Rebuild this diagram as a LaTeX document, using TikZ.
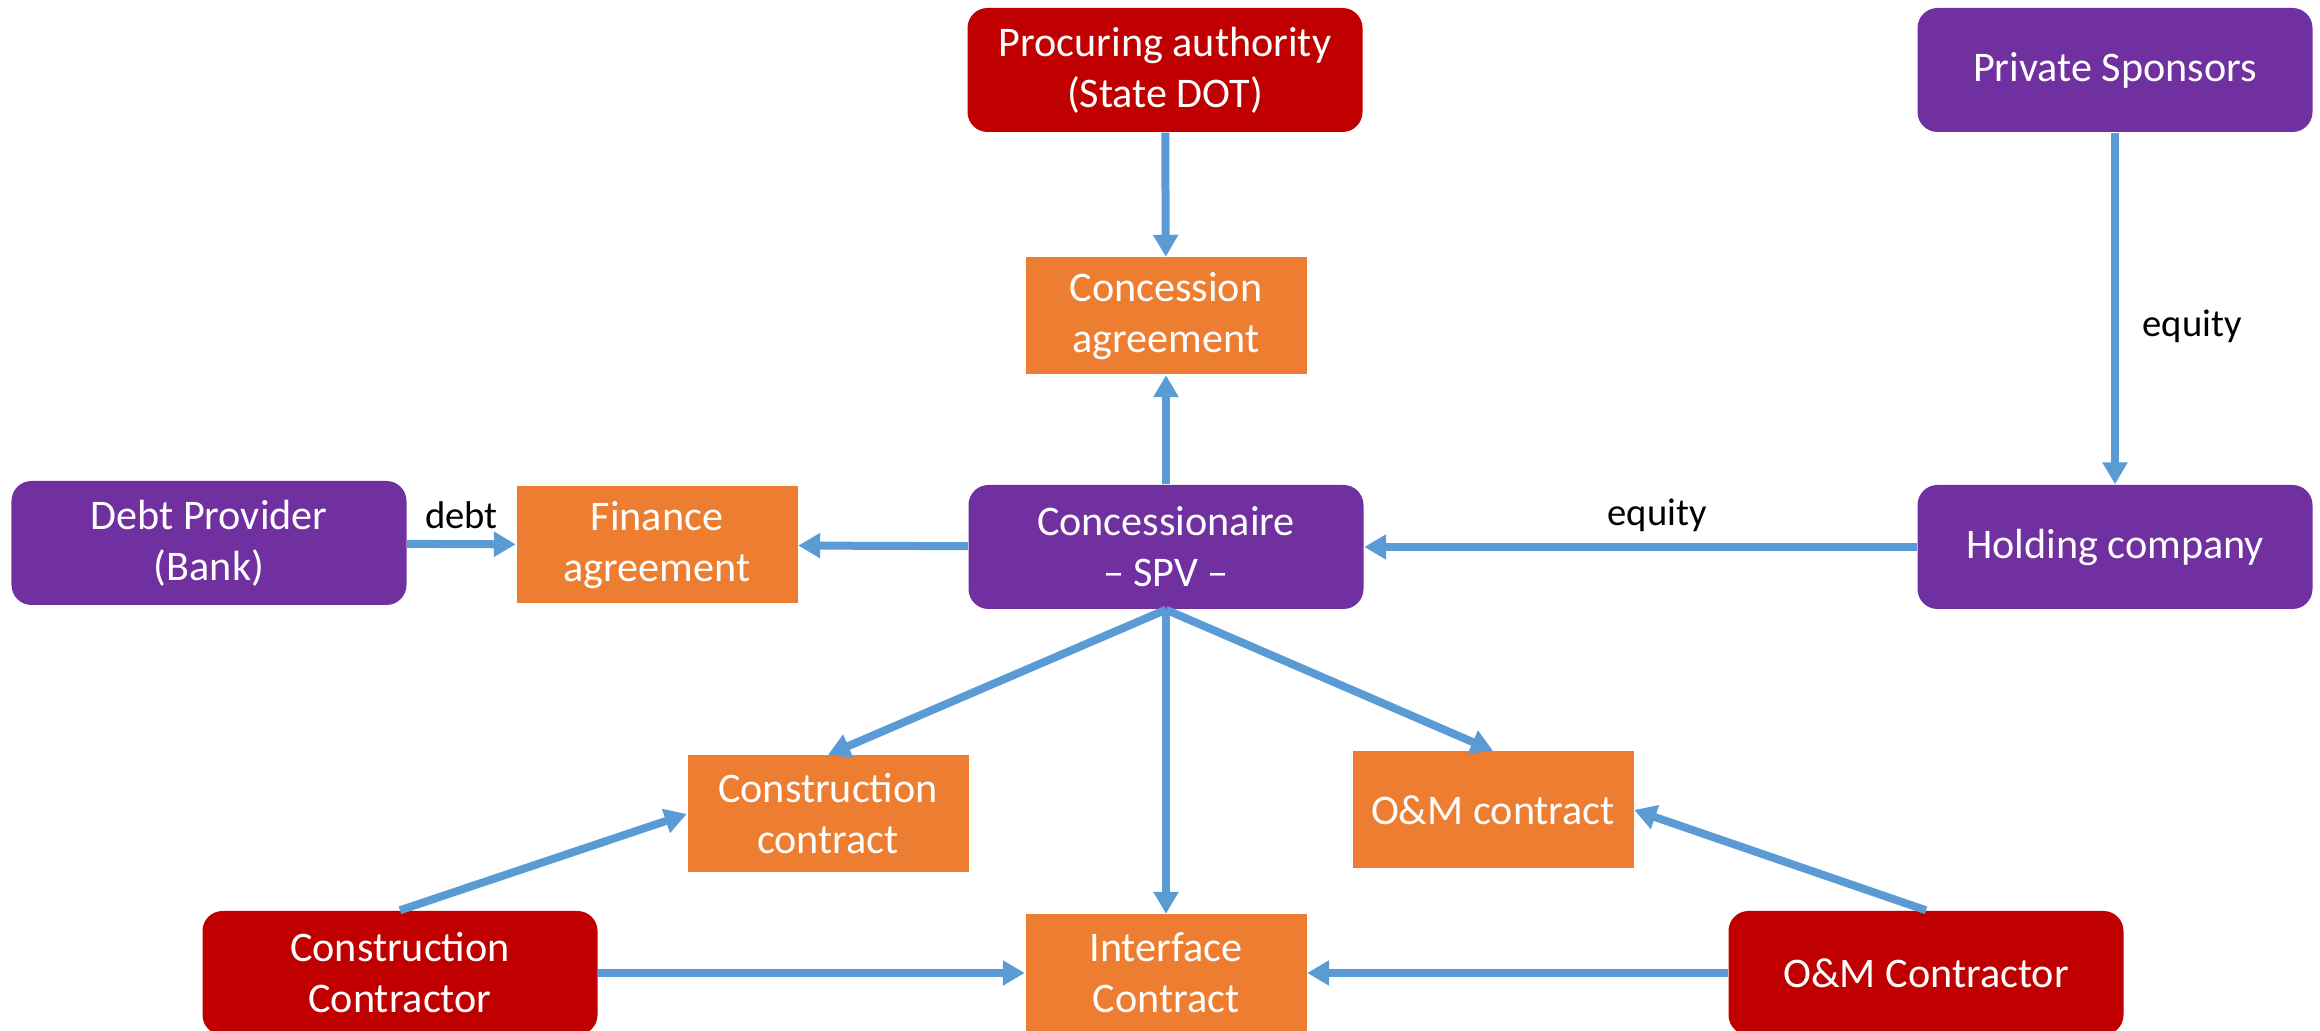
\documentclass[tikz,border=0pt]{standalone}
\usepackage{fontspec}
\setmainfont{Carlito}
\usetikzlibrary{arrows.meta}
\definecolor{ppred}{HTML}{C00000}
\definecolor{pppurple}{HTML}{7030A0}
\definecolor{pporange}{HTML}{ED7D31}
\definecolor{ppblue}{HTML}{5B9BD5}

\begin{document}
\begin{tikzpicture}[
    party/.style={rounded corners=0.2cm, minimum width=3.95cm,
        minimum height=1.24cm, text=white, align=center,
        font=\fontsize{12}{14.5}\selectfont},
    agreement/.style={fill=pporange, minimum width=2.81cm,
        minimum height=1.17cm, text=white, align=center,
        font=\fontsize{12}{14.5}\selectfont},
    link/.style={ppblue, line width=0.08cm,
        -{Triangle[width=0.24cm,length=0.22cm]}},
    flowlabel/.style={black, font=\fontsize{11}{13}\selectfont}
]
    \useasboundingbox (0,0) rectangle (23.2,10.31);
    % parties
    \node[party,fill=ppred](proc) at (11.65,9.61)
        {Procuring authority\\(State DOT)};
    \node[party,fill=pppurple](spons) at (21.15,9.61) {Private Sponsors};
    \node[party,fill=pppurple](debt) at (2.09,4.88)
        {Debt Provider\\(Bank)};
    \node[party,fill=pppurple](spv) at (11.66,4.84)
        {Concessionaire\\-- SPV --};
    \node[party,fill=pppurple](hold) at (21.15,4.84) {Holding company};
    \node[party,fill=ppred](ccon) at (4.00,0.58)
        {Construction\\Contractor};
    \node[party,fill=ppred](omcon) at (19.26,0.58) {O\&M Contractor};
    % agreements
    \node[agreement](conc) at (11.66,7.15) {Concession\\agreement};
    \node[agreement](fin) at (6.57,4.86) {Finance\\agreement};
    \node[agreement](cc) at (8.28,2.17) {Construction\\contract};
    \node[agreement](om) at (14.93,2.21) {O\&M contract};
    \node[agreement](iface) at (11.66,0.58) {Interface\\Contract};
    % links
    \draw[link] (proc) -- (conc);
    \draw[link] (spv) -- (conc);
    \draw[link] (spons) -- node[flowlabel,right=0.12cm,pos=0.55]{equity} (hold);
    \draw[link] (hold) -- node[flowlabel,above,pos=0.47]{equity} (spv);
    \draw[link] (debt) -- node[flowlabel,above]{debt} (fin);
    \draw[link] (spv) -- (fin);
    \draw[link] (spv.south) -- (cc.north);
    \draw[link] (spv.south) -- (om.north);
    \draw[link] (spv.south) -- (iface.north);
    \draw[link] (ccon.north) -- (cc.west);
    \draw[link] (ccon) -- (iface);
    \draw[link] (omcon.north) -- (om.east);
    \draw[link] (omcon) -- (iface);
\end{tikzpicture}
\end{document}
